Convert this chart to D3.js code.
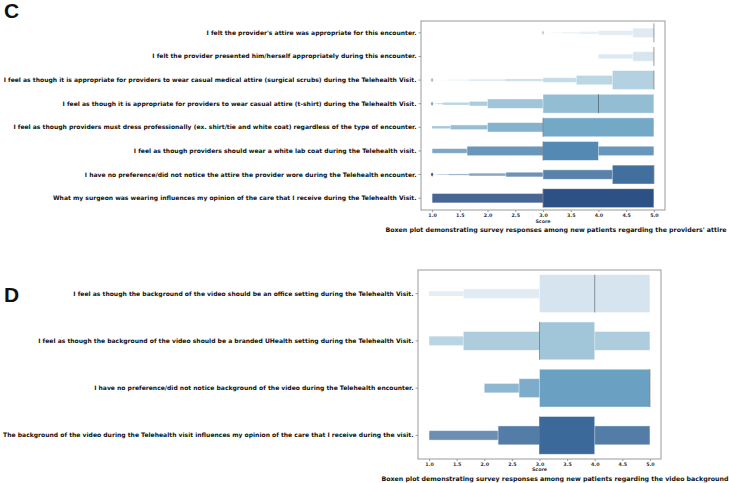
<!DOCTYPE html>
<html><head><meta charset="utf-8">
<script src="https://cdn.jsdelivr.net/npm/d3@7"></script>
<style>body{margin:0;background:#fff}svg{display:block}</style>
</head><body>
<svg id="chart" width="729" height="483"></svg>
<script>
// ---------- Panel C data ----------
const categoriesC = [
  "I felt the provider's attire was appropriate for this encounter.",
  "I felt the provider presented him/herself appropriately during this encounter.",
  "I feel as though it is appropriate for providers to wear casual medical attire (surgical scrubs) during the Telehealth Visit.",
  "I feel as though it is appropriate for providers to wear casual attire (t-shirt) during the Telehealth Visit.",
  "I feel as though providers must dress professionally (ex. shirt/tie and white coat) regardless of the type of encounter.",
  "I feel as though providers should wear a white lab coat during the Telehealth visit.",
  "I have no preference/did not notice the attire the provider wore during the Telehealth encounter.",
  "What my surgeon was wearing influences my opinion of the care that I receive during the Telehealth Visit."
];
// letter-value box lower ends, innermost (IQR) first, then outward
const lowsC = [
  [5, 4.62, 4.0, 3.67, 3.35, 3.2, 3.1, 3.05],
  [5, 4.62, 4.0, 4.0, 4.0, 4.0, 4.0, 4.0],
  [4.25, 3.6, 3.0, 2.32, 1.67, 1.3, 1.1, 1.05],
  [3.0, 2.0, 1.67, 1.2, 1.1, 1.05, 1.03, 1.02],
  [3.0, 2.0, 1.33, 1.0, 1.0, 1.0, 1.0, 1.0],
  [3.0, 1.63, 1.0, 1.0, 1.0, 1.0, 1.0, 1.0],
  [4.25, 3.0, 2.33, 1.67, 1.3, 1.1, 1.05, 1.02],
  [3.0, 1.0, 1.0, 1.0, 1.0, 1.0, 1.0, 1.0]
];
const highsC = [
  [5, 5, 5, 5, 5, 5, 5, 5],
  [5, 5, 5, 5, 5, 5, 5, 5],
  [5, 5, 5, 5, 5, 5, 5, 5],
  [5, 5, 5, 5, 5, 5, 5, 5],
  [5, 5, 5, 5, 5, 5, 5, 5],
  [4, 5, 5, 5, 5, 5, 5, 5],
  [5, 5, 5, 5, 5, 5, 5, 5],
  [5, 5, 5, 5, 5, 5, 5, 5]
];
const mediansC = [5, 5, 5, 4, 3, 3, 5, 3];
const outliersC = [[3.0], [], [1.0], [1.0], [], [], [1.0], []];
const colorsC = ["#dbe7f0", "#d0e2ec", "#b3d1e0", "#93bdd3", "#74a8c7", "#5489b3", "#41709f", "#2e5185"];

// ---------- Panel D data ----------
const categoriesD = [
  "I feel as though the background of the video should be an office setting during the Telehealth Visit.",
  "I feel as though the background of the video should be a branded UHealth setting during the Telehealth Visit.",
  "I have no preference/did not notice background of the video during the Telehealth encounter.",
  "The background of the video during the Telehealth visit influences my opinion of the care that I receive during the visit."
];
const lowsD = [
  [3.0, 3.0, 1.62, 1.0, 1.0, 1.0, 1.0, 1.0],
  [3.0, 1.62, 1.0, 1.0, 1.0, 1.0, 1.0, 1.0],
  [3.0, 2.63, 2.0, 2.0, 2.0, 2.0, 2.0, 2.0],
  [3.0, 2.25, 1.0, 1.0, 1.0, 1.0, 1.0, 1.0]
];
const highsD = [
  [5, 5, 5, 5, 5, 5, 5, 5],
  [4, 5, 5, 5, 5, 5, 5, 5],
  [5, 5, 5, 5, 5, 5, 5, 5],
  [4, 5, 5, 5, 5, 5, 5, 5]
];
const mediansD = [4, 3, 5, 3];
const outliersD = [[], [], [], []];
const colorsD = ["#d6e4ef", "#a2c6d9", "#6aa0c1", "#3b6a9a"];

const xTicks = [1.0, 1.5, 2.0, 2.5, 3.0, 3.5, 4.0, 4.5, 5.0];
const xDomain = [0.8, 5.2];

const svg = d3.select("#chart");

function mixWhite(c, m) {
  const r = d3.rgb(c);
  return d3.rgb(r.r + (255 - r.r) * m, r.g + (255 - r.g) * m, r.b + (255 - r.b) * m).toString();
}

function panel(cfg) {
  const g = svg.append("g");
  const x = d3.scaleLinear().domain(xDomain).range([cfg.left, cfg.right]);
  const y = d3.scaleBand().domain(cfg.cats).range([cfg.top, cfg.bottom]).padding(0);
  const bw = y.bandwidth();
  const FW = 0.8;

  cfg.cats.forEach((cat, i) => {
    const cy = y(cat) + bw / 2;
    const lows = cfg.lows[i], highs = cfg.highs[i];
    const k = lows.length;
    for (let j = k - 1; j >= 0; j--) {
      const h = bw * FW / Math.pow(2, j);
      const m = 0.85 * j / (k - 1);
      const x0 = x(lows[j]), x1 = x(highs[j]);
      if (x1 - x0 <= 0) continue;
      g.append("rect")
        .attr("x", x0).attr("y", cy - h / 2)
        .attr("width", x1 - x0).attr("height", h)
        .attr("fill", mixWhite(cfg.colors[i], m))
        .attr("stroke", j <= 2 ? "rgba(255,255,255,0.55)" : "none")
        .attr("stroke-width", 0.8);
    }
    g.append("line")
      .attr("x1", x(cfg.medians[i])).attr("x2", x(cfg.medians[i]))
      .attr("y1", cy - bw * FW / 2).attr("y2", cy + bw * FW / 2)
      .attr("stroke", "rgba(38,38,38,0.45)").attr("stroke-width", 1);
    cfg.outliers[i].forEach(v => {
      g.append("path")
        .attr("d", `M${x(v)},${cy - 2.2}L${x(v) + 1.4},${cy}L${x(v)},${cy + 2.2}L${x(v) - 1.4},${cy}Z`)
        .attr("fill", d3.rgb(cfg.colors[i]).darker(0.3));
    });
  });

  g.append("rect").attr("x", cfg.left).attr("y", cfg.top)
    .attr("width", cfg.right - cfg.left).attr("height", cfg.bottom - cfg.top)
    .attr("fill", "none").attr("stroke", "#9a9a9a").attr("stroke-width", 1);

  const ax = g.append("g").attr("transform", `translate(0,${cfg.bottom})`)
    .call(d3.axisBottom(x).tickValues(xTicks).tickFormat(d3.format(".1f")).tickSize(2).tickPadding(2));
  ax.select(".domain").remove();
  ax.selectAll("line").attr("stroke", "#9a9a9a");
  ax.selectAll("text").attr("font-family", "DejaVu Sans").attr("font-weight", "bold")
    .attr("font-size", 4.8).attr("fill", "#333");

  const ay = g.append("g").attr("transform", `translate(${cfg.left},0)`)
    .call(d3.axisLeft(y).tickSize(2.5).tickPadding(2));
  ay.select(".domain").remove();
  ay.selectAll("line").attr("stroke", "#9a9a9a");
  ay.selectAll("text").attr("font-family", "DejaVu Sans").attr("font-weight", "bold")
    .attr("font-size", cfg.labelSize).attr("fill", "#111");

  g.append("text").attr("x", (cfg.left + cfg.right) / 2).attr("y", cfg.scoreY)
    .attr("text-anchor", "middle").attr("font-family", "DejaVu Sans").attr("font-weight", "bold")
    .attr("font-size", 4.8).attr("fill", "#333").text("Score");

  g.append("text").attr("x", cfg.capX).attr("y", cfg.capY)
    .attr("text-anchor", "middle").attr("font-family", "DejaVu Sans").attr("font-weight", "bold")
    .attr("font-size", 6.28).attr("fill", "#111").text(cfg.caption);

  g.append("text").attr("x", 4).attr("y", cfg.letterY)
    .attr("font-family", "Liberation Sans, Arial, sans-serif").attr("font-weight", "bold")
    .attr("font-size", 21).attr("fill", "#111").text(cfg.letter);
}

panel({
  cats: categoriesC, lows: lowsC, highs: highsC, medians: mediansC, outliers: outliersC, colors: colorsC,
  left: 421, right: 665, top: 21, bottom: 210, labelSize: 6.05,
  scoreY: 222.5, capX: 556, capY: 231.5, letter: "C", letterY: 18,
  caption: "Boxen plot demonstrating survey responses among new patients regarding the providers' attire"
});
panel({
  cats: categoriesD, lows: lowsD, highs: highsD, medians: mediansD, outliers: outliersD, colors: colorsD,
  left: 418, right: 661, top: 270, bottom: 459, labelSize: 6.05,
  scoreY: 471, capX: 555, capY: 481, letter: "D", letterY: 302,
  caption: "Boxen plot demonstrating survey responses among new patients regarding the video background"
});
</script>
</body></html>
